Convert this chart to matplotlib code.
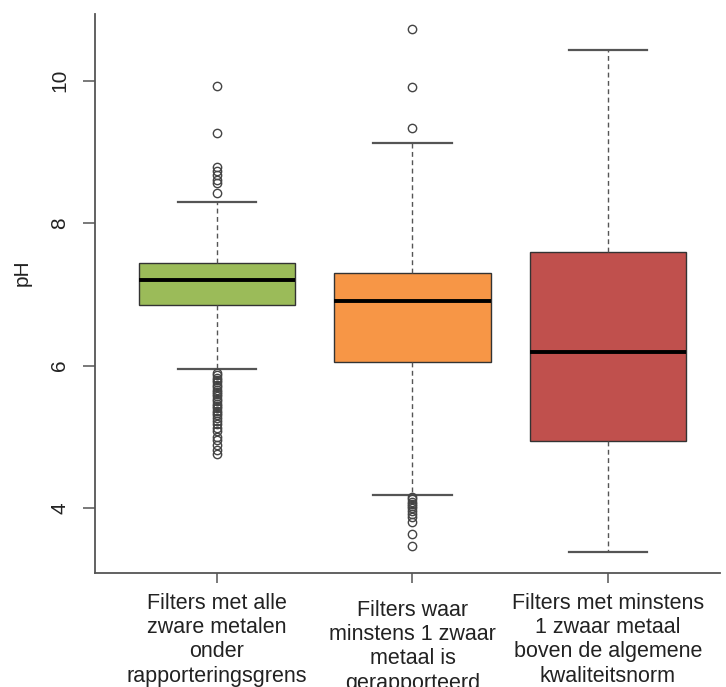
import matplotlib
matplotlib.use("Agg")
import matplotlib.pyplot as plt
import matplotlib.transforms as mtransforms

plt.rcParams['font.family'] = ['Liberation Sans', 'DejaVu Sans']

labels = [
    "Filters met alle\nzware metalen\nonder\nrapporteringsgrens",
    "Filters waar\nminstens 1 zwaar\nmetaal is\ngerapporteerd",
    "Filters met minstens\n1 zwaar metaal\nboven de algemene\nkwaliteitsnorm",
]
colors = ["#9BBB59", "#F79646", "#C0504D"]
q1 = [6.85, 6.05, 4.94]
med = [7.20, 6.91, 6.19]
q3 = [7.44, 7.30, 7.60]
whislo = [5.95, 4.18, 3.38]
whishi = [8.30, 9.13, 10.43]
fliers_green = [9.93, 9.26, 8.79, 8.73, 8.67, 8.61, 8.56, 8.42,
                5.90, 5.87, 5.83, 5.80, 5.77, 5.73, 5.70, 5.66, 5.63, 5.60,
                5.57, 5.53, 5.50, 5.46, 5.43, 5.40, 5.36, 5.33, 5.30, 5.26,
                5.22, 5.18, 5.13, 5.08, 5.00, 4.95, 4.88, 4.82, 4.76]
fliers_orange = [10.73, 9.91, 9.33,
                 4.15, 4.12, 4.09, 4.06, 4.03, 4.00, 3.96, 3.92, 3.87, 3.80,
                 3.64, 3.46]
fliers_red = []
fliers = [fliers_green, fliers_orange, fliers_red]
yticks = [4, 6, 8, 10]

W, H = 726, 687
fig = plt.figure(figsize=(W / 100, H / 100), dpi=100)
ax = fig.add_axes([95 / W, 1 - 573 / H, (720 - 95) / W, (573 - 14) / H])

stats = []
for i in range(3):
    stats.append(dict(med=med[i], q1=q1[i], q3=q3[i], whislo=whislo[i],
                      whishi=whishi[i], fliers=fliers[i]))

bp = ax.bxp(stats, positions=[1, 2, 3], widths=0.8, patch_artist=True,
            boxprops=dict(edgecolor="#333333", linewidth=1.0),
            medianprops=dict(color="black", linewidth=2.8, solid_capstyle="butt"),
            whiskerprops=dict(color="#555555", linewidth=1.0, linestyle=(0, (3.5, 2.5))),
            capprops=dict(color="#555555", linewidth=1.6),
            flierprops=dict(marker="o", markerfacecolor="none", markeredgecolor="#444444",
                            markersize=6, markeredgewidth=1.0))
for patch, c in zip(bp["boxes"], colors):
    patch.set_facecolor(c)

ax.set_xlim(0.376, 3.573)
ax.set_ylim(3.087, 10.937)
for s in ["top", "right"]:
    ax.spines[s].set_visible(False)
for s in ["left", "bottom"]:
    ax.spines[s].set_color("#555555")
    ax.spines[s].set_linewidth(1.3)

ax.set_yticks(yticks)
ax.set_yticklabels([str(t) for t in yticks], rotation=90, va="center", fontsize=15,
                   color="#222222")
ax.tick_params(axis="y", length=8.6, width=1.1, color="#555555", pad=10)
ax.set_xticks([1, 2, 3])
ax.set_xticklabels([])
ax.tick_params(axis="x", length=7, width=1.1, color="#555555")

trans = mtransforms.blended_transform_factory(ax.transData, fig.transFigure)
tops = [593, 600, 593]
for i, lab in enumerate(labels):
    ax.text(i + 1, 1 - tops[i] / H, lab, transform=trans, ha="center", va="top",
            fontsize=15.5, linespacing=1.2, color="#222222", clip_on=False)

fig.text(22 / W, 1 - 273 / H, "pH", rotation=90, ha="center", va="center",
         fontsize=15, color="#222222")

fig.savefig("out.png", dpi=100)
